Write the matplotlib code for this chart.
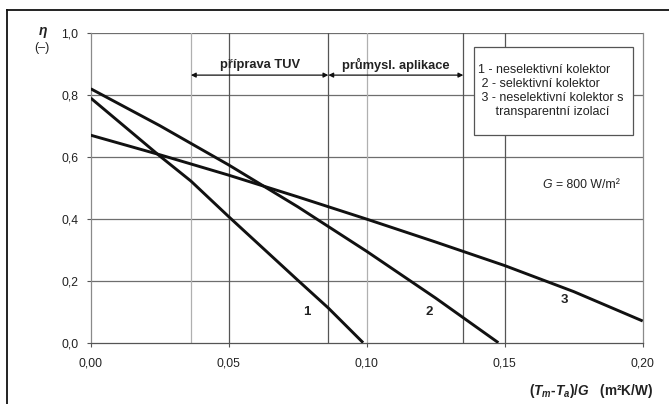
import matplotlib
matplotlib.use("Agg")
import matplotlib.pyplot as plt
from matplotlib.lines import Line2D
from matplotlib.patches import Rectangle

plt.rcParams['font.family'] = ['Liberation Sans', 'DejaVu Sans']
plt.rcParams['mathtext.fontset'] = 'custom'
plt.rcParams['mathtext.it'] = 'Liberation Sans:italic:bold'
plt.rcParams['mathtext.rm'] = 'Liberation Sans:bold'
plt.rcParams['mathtext.bf'] = 'Liberation Sans:bold'

# data
x1 = [0.0, 0.025, 0.0363, 0.05, 0.075, 0.0861, 0.0987]
y1 = [0.79, 0.603, 0.522, 0.407, 0.202, 0.112, 0.0]
x2 = [0.0, 0.025, 0.05, 0.075, 0.10, 0.125, 0.1477]
y2 = [0.82, 0.701, 0.574, 0.439, 0.295, 0.144, 0.0]
x3 = [0.0, 0.025, 0.05, 0.075, 0.10, 0.125, 0.15, 0.175, 0.2]
y3 = [0.67, 0.607, 0.541, 0.471, 0.399, 0.325, 0.249, 0.165, 0.07]
curve_labels = ["1", "2", "3"]
label_pos = [(0.0782, 0.10), (0.1227, 0.10), (0.1715, 0.138)]
xticks = [0.0, 0.05, 0.10, 0.15, 0.20]
xtick_labels = ["0,00", "0,05", "0,10", "0,15", "0,20"]
yticks = [0.0, 0.2, 0.4, 0.6, 0.8, 1.0]
ytick_labels = ["0,0", "0,2", "0,4", "0,6", "0,8", "1,0"]
ranges = [(0.0363, 0.0861, "příprava TUV"), (0.0861, 0.135, "průmysl. aplikace")]
legend_lines = ["1 - neselektivní kolektor", " 2 - selektivní kolektor",
                " 3 - neselektivní kolektor s", "     transparentní izolací"]

fig = plt.figure(figsize=(6.69, 4.04), dpi=100)
fig.patch.set_facecolor('white')
ax = fig.add_axes([90.7/669, 1-342.7/404, (642.7-90.7)/669, (342.7-33)/404])

ax.set_xlim(0, 0.2)
ax.set_ylim(0, 1.0)

# grid
for yv in yticks[1:]:
    ax.axhline(yv, color='#6e6e6e', lw=0.9, zorder=1)
grid_x = [(0.05, '#555555'), (0.10, '#b0b0b0'), (0.15, '#555555')]
for xv, c in grid_x:
    ax.axvline(xv, color=c, lw=0.9, zorder=1)
range_cols = ['#b0b0b0', '#555555', '#555555']
bounds = [ranges[0][0], ranges[0][1], ranges[1][1]]
for xv, c in zip(bounds, range_cols):
    ax.axvline(xv, color=c, lw=0.9, zorder=1)

for xs, ys in [(x1, y1), (x2, y2), (x3, y3)]:
    ax.plot(xs, ys, color='#111111', lw=2.1, zorder=3, solid_capstyle='butt',
            solid_joinstyle='round')

for lab, (xx, yy) in zip(curve_labels, label_pos):
    ax.text(xx, yy, lab, fontsize=9.5, fontweight='bold', ha='center', va='center', color='#222222')

# range arrows
for a, b, t in ranges:
    ax.annotate('', xy=(a, 0.864), xytext=(b, 0.864),
                arrowprops=dict(arrowstyle='<|-|>', color='#111111', lw=0.9,
                                mutation_scale=7, shrinkA=0, shrinkB=0), zorder=4)
    ax.text((a + b) / 2, 0.897, t, fontsize=9.3, fontweight='bold', ha='center', va='center', color='#222222')

# spines
ax.spines['top'].set_visible(False)
ax.spines['right'].set_color('#8a8a8a')
ax.spines['left'].set_color('#8a8a8a')
ax.spines['bottom'].set_color('#555555')
for s in ax.spines.values():
    s.set_linewidth(0.9)

ax.set_xticks(xticks)
ax.set_xticklabels(xtick_labels)
ax.set_yticks(yticks)
ax.set_yticklabels(ytick_labels)
ax.tick_params(axis='both', length=3, width=0.8, color='#555555', labelsize=8.7, labelcolor='#222222')
ax.tick_params(axis='x', pad=8)
ax.tick_params(axis='y', pad=6)

# legend box
fig.patches.append(Rectangle((474/669, 1-135/404), (633-474)/669, (135-47)/404,
                             transform=fig.transFigure, facecolor='white',
                             edgecolor='#555555', lw=0.9, zorder=5))
ly = [70, 84, 98, 112]
for t, y in zip(legend_lines, ly):
    fig.text(478/669, 1-y/404, t, fontsize=9, ha='left', va='center', color='#222222', zorder=6)

fig.text(542/669, 1-185/404, 'G', fontsize=8.8, style='italic', ha='left', va='center', color='#222222')
fig.text(556/669, 1-185/404, '= 800 W/m²', fontsize=8.8, ha='left', va='center', color='#222222')

# axis labels
fig.text(43/669, 1-31/404, 'η', fontsize=10, style='italic', fontweight='bold', ha='center', va='center', color='#222222')
fig.text(42/669, 1-48/404, '(–)', fontsize=9, ha='center', va='center', color='#222222')
fig.text(653/669, 1-391/404, r'$(T_m$-$T_a)/G$   (m²K/W)',
         fontsize=9.8, fontweight='bold', ha='right', va='center', color='#222222')

# figure border
fig.add_artist(Line2D([7/669, 1.0], [1-9.5/404, 1-9.5/404], transform=fig.transFigure, color='#111111', lw=1.3))
fig.add_artist(Line2D([7/669, 7/669], [0, 1-9.5/404], transform=fig.transFigure, color='#111111', lw=1.3))

fig.savefig('out.png', dpi=100, facecolor='white')
